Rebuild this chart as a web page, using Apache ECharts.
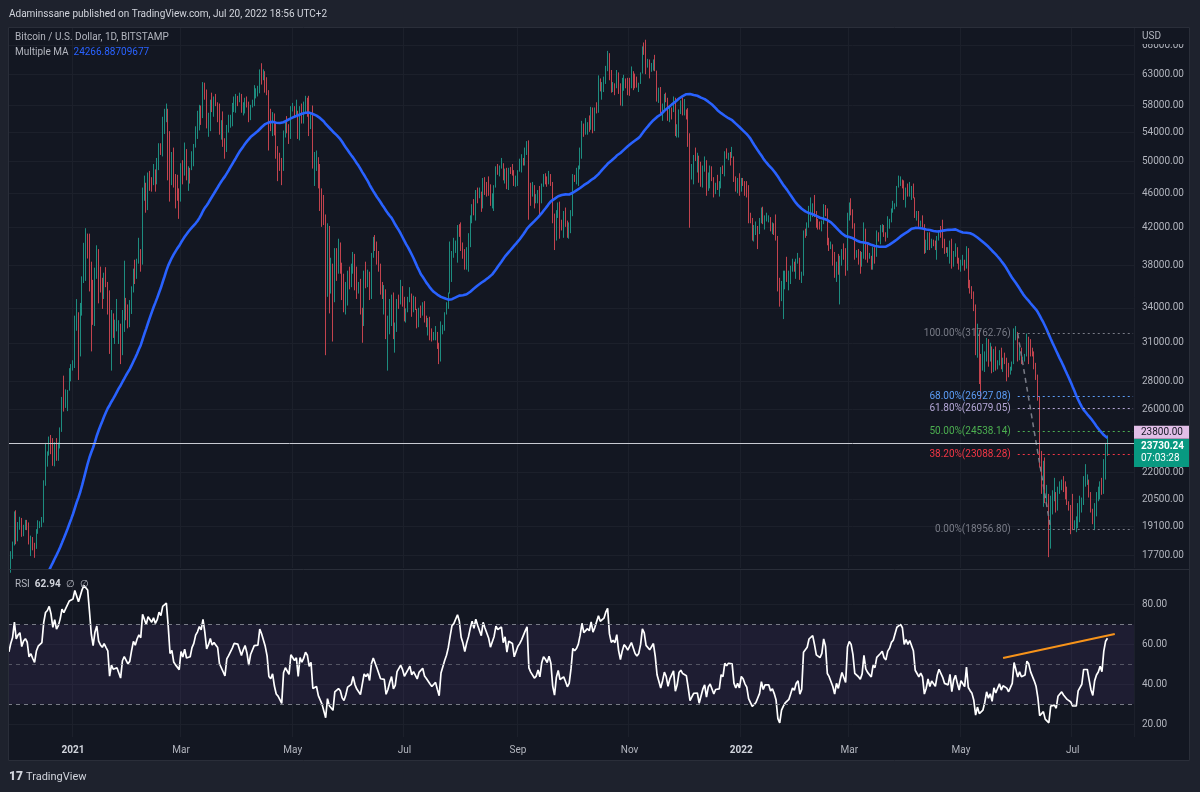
<!DOCTYPE html>
<html>
<head>
<meta charset="utf-8">
<title>BTCUSD 1D</title>
<script src="https://cdn.jsdelivr.net/npm/echarts@6/dist/echarts.min.js"></script>
<style>
html, body { margin: 0; padding: 0; background: #131722; }
#chart { width: 1200px; height: 792px; }
</style>
</head>
<body>
<div id="chart"></div>
<script>
var chart = echarts.init(document.getElementById('chart'));

var FONT = 'Roboto, "Noto Sans", sans-serif';

// daily BTC/USD (Bitstamp), prices in thousands of USD
var startDate = '2020-11-27';   // first candle
var axisDays = 615;             // time axis runs a bit past the last candle

// closes 2020-10-20 .. 2020-11-26, only used to warm up the MA and the RSI
var warmupCloses = [11.92,12.82,12.99,12.94,13.13,13.03,13.07,13.65,13.27,13.46,13.56,13.80,
  13.76,13.55,14.02,14.15,15.59,15.58,14.83,15.48,15.33,15.30,15.70,16.28,16.32,16.07,15.96,16.73,17.66,17.80,17.82,18.68,18.71,18.42,18.36,19.16,18.72,17.15];

var closes = [
  17.14,17.72,18.18,19.70,
  18.80,19.20,19.43,18.65,19.15,19.36,19.17,18.32,18.55,18.26,18.03,18.80,19.17,19.27,19.43,21.35,22.80,23.14,23.87,23.48,22.75,23.82,23.25,23.72,24.70,26.49,26.28,27.08,27.36,28.84,29.00,
  29.37,32.13,32.78,31.97,33.99,36.82,39.37,40.80,40.25,38.24,35.54,33.92,37.32,39.19,36.82,36.18,35.79,36.63,36.07,35.55,30.83,33.00,32.10,32.29,32.37,32.57,30.43,33.47,34.32,34.27,33.11,
  33.52,35.51,37.47,36.93,38.29,39.26,38.90,46.20,46.48,44.92,47.91,47.50,47.10,48.72,47.94,49.20,52.15,51.68,55.89,55.92,57.49,54.20,48.82,49.71,47.00,46.26,46.14,45.14,
  49.63,48.38,50.54,48.56,48.93,48.91,51.21,52.38,54.88,55.96,57.75,57.23,61.20,59.00,55.60,56.90,58.90,57.60,58.30,58.10,57.40,54.10,54.30,52.30,51.30,55.00,55.80,55.80,57.60,58.80,58.80,
  58.70,59.00,57.10,58.20,59.10,58.00,56.00,58.00,58.10,59.80,59.80,59.90,63.50,62.90,63.20,61.40,60.00,56.20,55.70,56.50,53.80,51.70,51.10,50.10,49.00,54.00,55.00,54.80,53.60,57.70,
  57.80,56.60,57.20,53.20,57.50,56.40,57.40,58.90,58.30,55.90,56.80,49.50,49.70,49.90,46.80,46.40,43.60,42.90,37.00,40.80,37.30,37.50,34.70,38.80,38.30,39.30,38.50,35.70,34.60,35.70,37.30,
  36.70,37.60,39.20,36.90,35.50,35.80,33.60,33.40,37.40,36.70,37.30,35.60,39.10,40.50,40.10,38.30,38.10,35.80,35.50,35.60,31.70,32.50,33.70,34.70,31.60,32.20,34.70,34.50,35.90,35.00,
  33.60,33.90,34.70,35.30,33.70,34.20,33.90,32.90,33.80,33.50,34.30,33.10,32.70,32.80,31.80,31.40,31.50,31.80,30.80,29.80,32.10,32.30,33.60,34.30,35.40,37.30,39.50,40.00,40.00,42.20,41.60,
  39.90,39.20,38.20,39.70,40.90,42.80,44.60,43.80,46.30,45.60,45.60,44.40,47.80,47.10,47.00,45.90,44.70,44.70,46.80,49.30,48.90,49.30,49.50,47.70,48.90,46.90,49.10,48.90,48.80,47.00,47.10,
  48.80,49.30,50.00,49.90,51.80,52.70,46.90,46.10,46.40,44.90,45.20,46.10,44.90,47.10,48.20,47.80,47.30,48.30,47.30,43.00,40.70,43.60,44.90,42.80,42.70,43.20,42.20,41.00,41.50,43.80,
  48.10,47.70,48.20,49.20,51.50,55.30,53.80,53.90,55.00,54.70,57.50,56.00,57.40,57.30,61.70,60.90,61.50,62.00,64.30,66.00,62.20,60.70,61.30,60.90,63.10,60.30,58.50,60.60,62.30,61.90,61.30,
  61.00,63.20,62.90,61.40,61.00,61.50,63.30,67.50,66.90,64.90,64.90,64.20,64.40,65.50,63.60,60.10,60.40,56.90,58.10,59.70,58.70,56.30,57.60,57.20,58.90,53.60,54.80,57.30,57.80,57.00,
  57.20,56.50,53.60,49.40,49.40,50.60,50.50,50.60,47.60,47.10,49.40,50.10,46.70,48.40,48.90,47.60,46.20,46.90,46.70,46.90,49.00,48.60,50.80,50.40,50.80,50.70,50.70,47.50,46.50,47.10,46.20,
  47.70,47.30,46.40,45.80,43.40,43.10,41.50,41.70,41.90,41.80,42.70,43.90,42.60,43.10,43.10,43.10,42.20,42.40,41.70,40.70,36.50,35.10,36.30,36.70,37.00,36.80,37.20,37.70,38.20,37.90,38.50,
  38.70,36.90,37.30,41.60,41.40,42.40,43.80,44.00,44.40,43.50,42.40,42.20,42.10,42.60,44.60,43.90,40.50,40.00,40.10,38.40,37.00,38.20,37.30,38.30,39.20,39.10,37.70,43.20,
  44.40,44.00,42.50,39.10,39.40,38.40,37.90,38.70,41.90,39.40,38.70,38.80,37.80,39.70,39.30,41.10,40.90,41.80,42.20,41.30,41.00,42.40,42.90,43.90,44.30,44.50,46.80,47.10,47.40,47.10,45.50,
  46.30,45.80,46.40,46.60,45.50,43.20,43.40,42.30,42.70,42.20,39.50,40.10,41.10,39.90,40.50,40.40,39.70,40.80,41.50,41.40,40.50,39.70,39.50,39.50,40.40,38.10,39.20,39.70,38.60,37.60,
  38.50,38.50,37.70,39.70,36.60,36.00,35.50,34.10,30.10,31.00,29.00,28.90,29.30,30.10,31.30,29.90,30.40,28.70,30.30,29.20,29.40,30.30,29.10,29.60,29.50,29.20,28.60,29.00,29.40,31.70,31.80,
  29.80,30.40,29.70,29.90,29.90,31.40,31.10,30.20,30.10,29.10,28.40,26.60,22.50,22.10,22.60,20.40,20.50,19.00,20.60,20.60,20.70,20.00,21.10,21.20,21.50,21.00,20.70,20.30,20.10,19.90,
  19.30,19.30,19.30,20.20,20.20,20.60,21.60,21.60,21.60,20.80,19.90,19.30,20.20,20.60,20.80,21.20,20.80,22.40,23.40,23.73024
];

var highs = [
  17.45,17.88,18.34,19.86,
  19.92,19.31,19.58,19.52,19.17,19.42,19.42,19.29,18.63,18.56,18.28,18.95,19.40,19.35,19.57,21.56,23.80,23.27,24.20,24.30,24.10,23.84,24.10,23.82,24.79,26.87,28.42,27.41,27.37,28.99,29.30,
  29.60,33.30,34.79,33.60,34.44,36.94,40.36,41.95,41.36,41.35,38.40,36.60,37.80,40.10,39.70,37.90,36.80,37.30,37.85,36.40,35.60,33.80,33.50,32.95,34.80,32.90,32.60,33.80,38.50,34.90,34.30,
  34.70,35.98,37.70,38.60,38.70,40.90,39.70,46.70,48.20,47.30,48.60,48.80,48.00,49.70,49.00,50.50,52.50,52.50,56.30,57.50,58.30,57.50,54.20,51.30,51.90,48.40,48.30,46.60,
  49.80,50.20,52.60,51.70,49.40,49.20,51.40,52.40,54.90,57.20,58.10,58.00,61.70,61.60,60.50,56.90,58.90,60.00,59.40,59.80,58.50,58.30,55.80,57.10,53.20,55.10,56.60,56.60,58.40,59.40,59.80,
  59.50,60.00,59.80,58.50,59.20,59.40,58.60,58.10,58.90,61.20,60.70,61.10,63.80,64.85,63.80,63.50,62.50,60.40,57.50,57.00,56.80,55.40,52.10,51.20,50.50,54.30,55.50,56.40,55.20,57.90,
  58.40,57.90,58.90,57.20,57.90,58.30,58.60,59.50,59.20,59.50,57.00,58.00,51.30,51.50,50.60,49.70,46.60,45.80,43.50,42.50,42.20,38.80,38.20,39.80,39.80,40.80,40.40,38.30,37.20,36.40,37.50,
  37.90,38.20,39.40,39.20,37.90,36.40,36.70,34.00,37.50,38.40,37.60,37.40,39.30,41.00,41.20,40.50,39.50,38.20,36.40,36.10,35.70,33.30,34.80,35.20,35.40,32.70,34.80,35.20,36.60,36.00,
  35.00,33.95,35.00,35.90,35.30,35.10,35.00,33.90,34.00,34.20,34.50,34.60,33.30,33.10,33.20,32.20,31.90,32.40,31.90,31.00,32.80,32.50,33.60,34.50,35.40,40.50,39.50,40.90,40.60,42.30,42.40,
  42.60,40.40,39.70,39.90,41.40,43.40,44.70,45.30,46.40,46.70,46.70,46.20,47.90,48.00,47.40,48.10,47.10,46.00,47.00,49.40,49.70,49.50,50.50,49.80,49.10,49.20,49.20,49.30,49.70,48.90,48.20,
  48.90,50.40,51.00,50.50,51.90,52.80,52.90,47.30,47.40,47.00,45.90,46.40,46.90,47.20,48.40,48.50,48.10,48.80,48.40,47.40,43.60,44.00,44.90,45.00,42.90,43.90,44.30,42.80,42.60,44.00,
  48.40,48.30,49.20,49.50,51.90,55.70,55.30,56.10,55.50,56.50,57.80,57.70,57.70,58.50,62.80,62.30,61.70,62.60,64.40,67.00,66.60,63.70,61.70,61.50,63.70,63.30,61.50,62.40,62.90,62.30,62.40,
  62.40,64.30,63.50,63.10,62.60,61.60,63.30,67.80,68.50,69.00,65.60,65.50,64.90,65.50,66.30,63.60,60.80,60.90,58.30,59.80,60.00,59.20,57.80,57.70,59.40,59.20,55.20,57.40,58.80,59.20,
  59.00,57.40,57.60,53.90,49.70,50.90,51.90,51.20,50.80,50.00,49.50,50.70,50.20,48.60,49.50,49.40,48.00,47.30,48.30,47.50,49.30,49.50,51.40,51.80,51.20,51.30,52.00,50.70,48.10,47.90,48.50,
  47.90,47.90,47.50,47.50,47.00,43.70,43.10,42.30,42.70,42.20,43.10,44.30,44.40,43.40,43.70,43.40,43.20,42.60,42.50,43.50,41.10,36.80,36.50,37.50,37.50,38.90,37.50,38.00,38.70,38.40,38.70,
  39.30,38.80,37.40,41.70,41.90,42.60,44.50,45.50,44.80,45.80,43.90,43.00,42.70,42.80,44.70,44.60,44.20,40.90,40.50,40.20,39.40,38.40,39.20,39.00,39.70,40.30,39.80,43.70,
  44.90,45.40,44.10,42.50,39.60,39.70,39.50,39.40,42.60,41.90,40.20,39.30,39.00,39.90,39.90,41.70,41.50,42.30,42.40,42.30,41.50,43.30,43.00,44.20,45.10,44.80,46.90,48.20,48.10,47.70,47.60,
  46.70,47.20,47.40,46.90,47.20,45.50,43.90,43.90,42.80,43.40,42.40,40.70,41.50,41.50,40.80,40.70,40.60,41.10,41.70,42.20,42.90,40.80,39.90,39.90,40.60,40.80,39.50,40.30,39.90,38.80,
  38.60,39.10,38.60,40.00,39.80,36.60,36.00,35.50,34.30,32.60,32.10,30.10,30.90,30.30,31.40,31.30,31.00,30.70,30.50,30.70,29.60,30.40,30.60,29.80,30.20,29.80,29.40,29.10,29.50,32.20,32.40,
  31.90,30.70,30.60,29.90,30.10,31.76,31.50,31.30,30.60,30.30,29.40,28.50,26.90,23.30,22.70,22.90,21.30,20.80,20.70,21.00,21.70,20.90,21.20,21.50,21.60,21.80,21.50,21.20,20.40,20.20,
  20.80,19.40,19.60,20.30,20.70,20.60,21.80,22.50,21.90,21.60,20.90,20.00,20.30,20.90,21.20,21.50,21.70,22.80,23.80,24.28
];

var lows = [
  16.45,16.89,17.52,18.15,
  18.21,18.35,18.92,18.57,18.60,18.91,18.90,18.20,17.65,17.92,17.57,17.99,18.72,19.00,19.05,19.28,21.25,22.35,23.01,23.10,22.40,22.37,22.70,22.70,23.45,24.50,25.85,26.10,25.88,27.32,28.00,
  28.80,29.00,32.00,28.10,29.90,33.30,36.30,36.50,38.72,35.50,30.30,32.50,32.40,36.70,34.40,35.40,33.90,34.80,35.90,33.40,30.10,28.80,31.40,30.90,31.95,30.90,29.30,30.00,31.90,32.90,32.20,
  32.30,33.45,35.40,36.20,36.70,38.20,37.40,38.10,45.10,43.70,44.00,46.30,46.20,47.00,46.20,47.10,48.90,50.90,50.70,53.80,55.50,47.60,45.00,47.00,46.70,44.20,45.10,43.00,
  45.00,47.10,48.20,47.60,46.30,47.20,48.90,49.40,51.90,53.10,54.30,55.10,56.10,58.90,54.60,53.40,54.20,57.00,56.30,57.90,55.50,53.70,53.00,52.00,50.40,51.30,54.00,54.70,54.90,57.00,56.90,
  57.90,58.50,56.90,56.50,56.80,57.70,55.50,55.80,57.70,57.90,59.10,59.40,59.90,61.30,62.00,60.00,59.60,51.50,54.20,53.50,53.60,50.40,47.50,48.80,47.00,48.80,53.30,53.90,52.40,53.10,
  57.10,56.10,56.50,53.10,52.90,55.30,55.30,56.90,56.30,53.50,54.50,49.10,46.90,48.80,46.60,43.90,42.10,42.30,30.00,35.00,33.50,35.30,31.10,34.50,36.50,37.20,37.20,34.70,33.60,33.40,34.20,
  35.70,35.90,37.20,35.60,34.80,35.30,33.40,31.00,32.40,35.80,35.90,34.70,34.80,38.80,39.50,38.10,37.40,35.20,34.80,33.40,31.30,28.80,31.70,32.40,31.30,30.20,31.90,33.90,34.30,34.10,
  32.80,32.70,33.60,34.50,33.20,33.60,33.80,32.20,32.30,33.10,33.30,32.70,32.30,31.60,31.20,31.10,31.20,31.20,30.50,29.30,29.50,31.70,32.00,33.40,33.90,35.30,36.40,38.80,39.30,38.30,41.00,
  39.50,38.70,37.60,37.60,37.40,39.90,42.50,43.40,42.80,44.80,45.40,43.80,44.20,45.80,45.60,45.70,44.50,44.20,43.90,46.70,48.30,48.10,49.10,47.60,47.20,46.50,46.40,48.40,48.20,46.90,46.80,
  46.90,48.70,48.60,49.50,49.50,50.90,42.90,44.50,45.60,44.20,44.80,44.80,43.50,44.80,46.80,47.10,46.80,47.10,46.90,42.50,39.60,40.60,43.10,40.80,41.70,40.90,42.10,40.90,40.80,41.40,
  43.30,47.40,47.10,46.90,49.00,50.40,53.40,53.70,53.70,54.10,54.40,53.90,54.20,56.80,56.90,60.20,58.90,60.10,61.40,63.50,62.00,60.00,60.10,59.60,60.70,59.80,58.00,57.90,60.30,60.70,59.60,
  59.50,60.70,60.40,60.70,60.80,60.10,61.40,63.10,66.30,63.00,64.10,62.30,63.40,63.60,63.50,58.60,58.40,56.50,55.70,57.40,58.50,55.70,55.50,55.90,57.00,53.50,53.30,53.30,56.70,56.50,
  56.50,55.90,52.00,42.00,47.70,47.10,50.10,48.60,47.30,46.80,46.70,48.70,45.70,46.30,46.60,47.50,45.50,45.90,46.40,45.60,46.60,48.40,48.10,50.40,50.20,49.50,50.50,47.40,46.20,46.00,45.70,
  46.20,46.90,45.70,45.50,42.50,42.50,40.60,40.50,41.20,39.70,41.30,42.50,42.40,41.80,42.70,42.60,41.60,41.30,41.20,40.60,35.50,34.10,34.60,33.00,35.70,36.40,35.60,36.20,37.40,37.40,36.70,
  38.20,36.60,36.30,37.00,40.90,41.10,42.00,42.70,43.20,43.20,42.00,41.80,41.80,41.60,42.40,43.30,40.10,39.50,39.70,38.00,36.80,36.40,37.10,34.30,38.00,38.60,37.00,37.50,
  42.80,43.40,41.90,38.60,38.80,38.10,37.20,37.90,38.70,38.60,38.30,38.70,37.60,37.60,38.20,38.90,40.50,40.20,41.50,41.00,40.50,40.90,41.90,42.60,43.70,44.10,44.40,46.70,46.90,46.60,45.20,
  44.30,45.60,45.60,45.20,45.40,43.10,42.80,42.10,42.10,41.90,39.20,39.30,39.60,39.60,39.80,40.00,39.60,38.60,40.60,40.90,39.80,39.20,39.30,38.90,38.20,37.70,37.90,38.90,38.20,37.60,
  37.40,38.00,37.50,37.70,35.80,35.30,34.80,33.70,30.00,29.80,27.80,26.70,28.80,28.70,29.50,29.10,29.50,28.60,28.70,28.80,28.90,29.20,28.90,28.70,29.30,28.00,28.30,28.50,28.80,29.30,31.20,
  29.50,29.60,29.30,29.50,29.50,29.90,29.30,29.90,29.90,28.90,28.10,26.60,22.30,20.80,20.10,20.30,20.30,17.60,18.00,19.70,20.40,19.80,19.90,20.80,21.00,20.90,20.50,20.20,19.90,18.70,
  18.90,18.90,18.80,19.00,19.30,19.80,20.20,21.20,21.30,20.60,19.80,19.20,18.90,19.60,20.40,20.50,20.75,20.80,21.60,23.00
];

var priceTicks = [17700, 19100, 20500, 22000, 26000, 28000, 31000, 34000, 38000, 42000, 46000, 50000, 54000, 58000, 63000, 68000];
var rsiTicks = [20, 40, 60, 80];
var monthNames = ['Jan','Feb','Mar','Apr','May','Jun','Jul','Aug','Sep','Oct','Nov','Dec'];

// drawings
var hLinePrice = 23800;
var fibNames = ['100.00%', '68.00%', '61.80%', '50.00%', '38.20%', '0.00%'];
var fibValues = [31762.76, 26927.08, 26079.05, 24538.14, 23088.28, 18956.80];
var fibColors = ['#787b86', '#5b9cf6', '#b4a7d6', '#4caf50', '#f23645', '#787b86'];
var fibFrom = '2022-06-01', fibTo = '2022-06-19';
var rsiTrend = [['2022-05-24', 53.1], ['2022-07-24', 65.2]];

var maLen = 60;
var rsiLen = 14;

// ---------- build series ----------
var dates = [];
var t0 = Date.parse(startDate + 'T00:00:00Z');
for (var i = 0; i < axisDays; i++) {
    dates.push(new Date(t0 + i * 86400000).toISOString().slice(0, 10));
}

var allCloses = warmupCloses.concat(closes);
var candles = closes.map(function (c, i) {
    var o = i === 0 ? warmupCloses[warmupCloses.length - 1] : closes[i - 1];
    return [o * 1000, c * 1000, lows[i] * 1000, highs[i] * 1000];
});

var maData = closes.map(function (c, i) {
    var j = i + warmupCloses.length;
    if (j < maLen - 1) return '-';
    var s = 0;
    for (var k = j - maLen + 1; k <= j; k++) s += allCloses[k];
    return +(s / maLen * 1000).toFixed(2);
});

function calcRsi(arr, n) {
    var out = [], g = 0, l = 0;
    for (var i = 1; i < arr.length; i++) {
        var ch = arr[i] - arr[i - 1];
        var up = Math.max(ch, 0), dn = Math.max(-ch, 0);
        if (i <= n) { g += up / n; l += dn / n; }
        else { g = (g * (n - 1) + up) / n; l = (l * (n - 1) + dn) / n; }
        out[i] = i >= n ? 100 - 100 / (1 + g / l) : null;
    }
    return out;
}
var rsiAll = calcRsi(allCloses, rsiLen);
var rsiData = closes.map(function (c, i) {
    return +rsiAll[i + warmupCloses.length].toFixed(2);
});

var lastPrice = closes[closes.length - 1] * 1000;

function isLabelDay(idx, val) {
    return val.slice(8) === '01' && (+val.slice(5, 7)) % 2 === 1;
}
function fmtDate(val) {
    var m = +val.slice(5, 7);
    return m === 1 ? '{y|' + val.slice(0, 4) + '}' : monthNames[m - 1];
}

var fibLines = fibValues.map(function (v, i) {
    return [
        { coord: [fibFrom, v], lineStyle: { color: fibColors[i], type: [2, 3], width: 1 },
          label: { show: true, position: 'start', distance: 7, color: fibColors[i], fontSize: 10, fontFamily: FONT,
                   formatter: fibNames[i] + '(' + v.toFixed(2) + ')' } },
        { coord: [dates[dates.length - 1], v] }
    ];
});
fibLines.push([
    { coord: [fibFrom, fibValues[0]], lineStyle: { color: '#787b86', type: [5, 4], width: 1.5 }, label: { show: false } },
    { coord: [fibTo, fibValues[fibValues.length - 1]] }
]);
fibLines.push({ yAxis: hLinePrice, lineStyle: { color: '#c8cad2', type: 'solid', width: 1 }, label: { show: false } });

var gridColor = '#1c202b';
var axisText = '#b2b5be';

var graphics = [
    { type: 'rect', z: 100, shape: { x: 0, y: 0, width: 1200, height: 27 }, style: { fill: '#1e222d' } },
    { type: 'rect', z: 100, shape: { x: 0, y: 0, width: 8, height: 792 }, style: { fill: '#1e222d' } },
    { type: 'rect', z: 100, shape: { x: 1190, y: 0, width: 10, height: 792 }, style: { fill: '#1e222d' } },
    { type: 'rect', z: 100, shape: { x: 0, y: 761, width: 1200, height: 31 }, style: { fill: '#1e222d' } },
    { type: 'rect', z: 99, shape: { x: 8.5, y: 27.5, width: 1181, height: 733 }, style: { fill: null, stroke: '#2a2e39', lineWidth: 1 } },
    { type: 'line', z: 99, shape: { x1: 8, y1: 569.5, x2: 1190, y2: 569.5 }, style: { stroke: '#2a2e39', lineWidth: 1 } },
    { type: 'text', z: 101, x: 9, y: 14, style: { text: 'Adaminssane published on TradingView.com, Jul 20, 2022 18:56 UTC+2', fill: '#d1d4dc', font: '10px ' + FONT, verticalAlign: 'middle' } },
    { type: 'text', z: 101, x: 15, y: 37, style: { text: 'Bitcoin / U.S. Dollar, 1D, BITSTAMP', fill: axisText, font: '10px ' + FONT, verticalAlign: 'middle' } },
    { type: 'text', z: 101, x: 15, y: 52, style: {
        text: '{a|Multiple MA}  {b|24266.88709677}', verticalAlign: 'middle', font: '10px ' + FONT,
        rich: { a: { fill: axisText, font: '10px ' + FONT }, b: { fill: '#2962ff', font: '10px ' + FONT } } } },
    { type: 'text', z: 101, x: 15, y: 584, style: {
        text: '{a|RSI}  {b|62.94}  {a|\u2205}  {a|\u2205}', verticalAlign: 'middle', font: '10px ' + FONT,
        rich: { a: { fill: axisText, font: '10px ' + FONT }, b: { fill: '#d1d4dc', font: 'bold 10px ' + FONT } } } },
    { type: 'rect', z: 101, shape: { x: 1135, y: 28, width: 54, height: 16 }, style: { fill: '#131722' } },
    { type: 'text', z: 102, x: 1142, y: 36, style: { text: 'USD', fill: axisText, font: '10px ' + FONT, verticalAlign: 'middle' } },
    { type: 'text', z: 101, x: 9, y: 777, style: { text: '17', fill: '#d1d4dc', font: '900 12px ' + FONT, verticalAlign: 'middle' } },
    { type: 'text', z: 101, x: 26, y: 777, style: { text: 'TradingView', fill: '#d1d4dc', font: '11px ' + FONT, verticalAlign: 'middle' } }
];

option = {
    backgroundColor: '#131722',
    animation: false,
    textStyle: { fontFamily: FONT },
    grid: [
        { left: 8, right: 66, top: 27, height: 541 },
        { left: 8, right: 66, top: 570, height: 167 }
    ],
    xAxis: [
        {
            type: 'category', gridIndex: 0, data: dates,
            axisLine: { show: false }, axisTick: { show: false }, axisLabel: { show: false },
            splitLine: { show: true, interval: isLabelDay, lineStyle: { color: gridColor } }
        },
        {
            type: 'category', gridIndex: 1, data: dates,
            axisLine: { show: false }, axisTick: { show: false },
            axisLabel: {
                interval: isLabelDay, formatter: fmtDate, color: axisText, fontSize: 10, margin: 8,
                fontFamily: FONT,
                rich: { y: { color: '#d1d4dc', fontSize: 10, fontWeight: 'bold', fontFamily: FONT } }
            },
            splitLine: { show: true, interval: isLabelDay, lineStyle: { color: gridColor } }
        }
    ],
    yAxis: [
        {
            type: 'log', gridIndex: 0, position: 'right', min: 17103, max: 71360,
            axisLine: { show: false },
            axisTick: { show: false, customValues: priceTicks },
            axisLabel: { customValues: priceTicks, color: axisText, fontSize: 10, margin: 8, fontFamily: FONT,
                         formatter: function (v) { return (+v).toFixed(2); } },
            splitLine: { show: true, lineStyle: { color: gridColor } }
        },
        {
            type: 'value', gridIndex: 1, position: 'right', min: 13.48, max: 97.3,
            axisLine: { show: false },
            axisTick: { show: false, customValues: rsiTicks },
            axisLabel: { customValues: rsiTicks, color: axisText, fontSize: 10, margin: 8, fontFamily: FONT,
                         formatter: function (v) { return (+v).toFixed(2); } },
            splitLine: { show: true, lineStyle: { color: gridColor } }
        }
    ],
    series: [
        {
            name: 'BTCUSD', type: 'candlestick', xAxisIndex: 0, yAxisIndex: 0,
            data: candles, barWidth: '45%', large: false,
            itemStyle: { color: '#1d8c7f', color0: '#c2434e', borderColor: '#1d8c7f', borderColor0: '#c2434e', borderWidth: 1 },
            markLine: { silent: true, symbol: ['none', 'none'], animation: false, data: fibLines }
        },
        {
            name: 'Multiple MA', type: 'line', xAxisIndex: 0, yAxisIndex: 0,
            data: maData, showSymbol: false, smooth: false,
            lineStyle: { color: '#2962ff', width: 2.6 }, z: 3
        },
        {
            name: 'RSI', type: 'line', xAxisIndex: 1, yAxisIndex: 1,
            data: rsiData, showSymbol: false,
            lineStyle: { color: '#ffffff', width: 1.7 },
            markArea: { silent: true, itemStyle: { color: 'rgba(126,87,194,0.1)' }, data: [[{ yAxis: 30 }, { yAxis: 70 }]] },
            markLine: {
                silent: true, symbol: ['none', 'none'], label: { show: false },
                data: [
                    { yAxis: 70, lineStyle: { color: '#787b86', type: [4, 4], width: 1 } },
                    { yAxis: 50, lineStyle: { color: '#787b86', type: [4, 4], width: 1, opacity: 0.6 } },
                    { yAxis: 30, lineStyle: { color: '#787b86', type: [4, 4], width: 1 } },
                    [{ coord: rsiTrend[0], lineStyle: { color: '#f7931a', type: 'solid', width: 2 } }, { coord: rsiTrend[1] }]
                ]
            }
        }
    ],
    graphic: graphics
};

chart.setOption(option);

// price badges on the axis, placed through the axis scale
var yH = chart.convertToPixel({ yAxisIndex: 0 }, hLinePrice);
var yP = chart.convertToPixel({ yAxisIndex: 0 }, lastPrice);
var badges = [
    { type: 'rect', z: 103, shape: { x: 1134, y: yH - 17, width: 55, height: 13 }, style: { fill: '#e1bee7' } },
    { type: 'text', z: 104, x: 1141, y: yH - 10.5, style: { text: hLinePrice.toFixed(2), fill: '#131722', font: '10px ' + FONT, verticalAlign: 'middle' } },
    { type: 'rect', z: 103, shape: { x: 1134, y: yP - 5, width: 55, height: 28 }, style: { fill: '#089981' } },
    { type: 'text', z: 104, x: 1141, y: yP + 2.5, style: { text: lastPrice.toFixed(2), fill: '#ffffff', font: 'bold 10px ' + FONT, verticalAlign: 'middle' } },
    { type: 'text', z: 104, x: 1141, y: yP + 15, style: { text: '07:03:28', fill: '#ffffff', font: '10px ' + FONT, verticalAlign: 'middle' } }
];
chart.setOption({ graphic: graphics.concat(badges) });
</script>
</body>
</html>
